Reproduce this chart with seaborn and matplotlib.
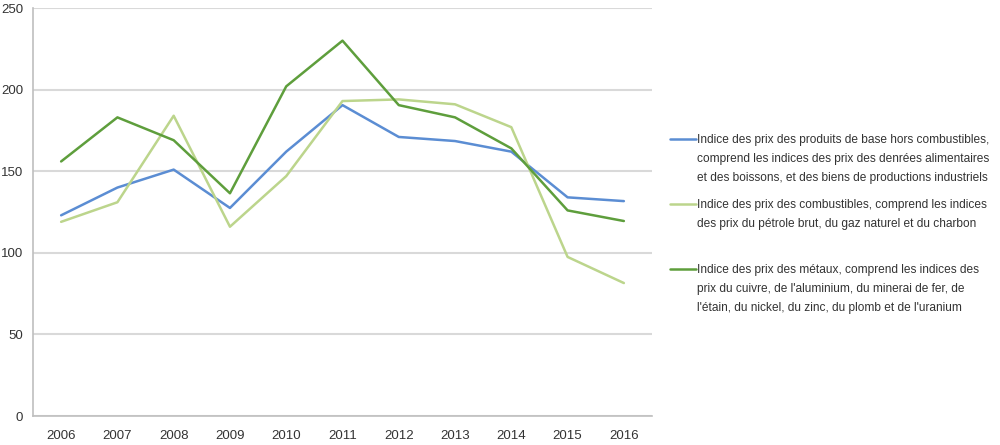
import matplotlib
matplotlib.use("Agg")
import matplotlib.pyplot as plt
import seaborn as sns
import pandas as pd
from matplotlib.lines import Line2D

years = ["2006", "2007", "2008", "2009", "2010", "2011", "2012", "2013", "2014", "2015", "2016"]
non_fuel = [123, 140, 151, 127.5, 162, 190.5, 171, 168.5, 162, 134, 131.7]
fuel = [119, 131, 184, 116, 147, 193, 194, 191, 177, 97.5, 81.5]
metals = [156, 183, 169, 136.5, 202, 230, 190.5, 183, 164, 126, 119.5]

labels = [
    "Indice des prix des produits de base hors combustibles,\ncomprend les indices des prix des denrées alimentaires\net des boissons, et des biens de productions industriels",
    "Indice des prix des combustibles, comprend les indices\ndes prix du pétrole brut, du gaz naturel et du charbon",
    "Indice des prix des métaux, comprend les indices des\nprix du cuivre, de l'aluminium, du minerai de fer, de\nl'étain, du nickel, du zinc, du plomb et de l'uranium",
]
colors = ["#5B8DD3", "#BCD58C", "#5E9E3C"]

df = pd.concat([
    pd.DataFrame({"year": years, "value": non_fuel, "serie": labels[0]}),
    pd.DataFrame({"year": years, "value": fuel, "serie": labels[1]}),
    pd.DataFrame({"year": years, "value": metals, "serie": labels[2]}),
])

sns.set_style("white")
plt.rcParams['font.family'] = ['Liberation Sans', 'DejaVu Sans']

fig = plt.figure(figsize=(10, 4.45), dpi=100)
ax = fig.add_axes([0.033, 0.065, 0.619, 0.917])

sns.lineplot(data=df, x="year", y="value", hue="serie", palette=colors,
             linewidth=1.8, ax=ax, legend=False, sort=False)

ax.set_ylim(0, 250)
ax.set_xlim(-0.5, 10.5)
ax.set_yticks([0, 50, 100, 150, 200, 250])
ax.yaxis.grid(True, color="#D9D9D9", linewidth=1.5)
ax.set_axisbelow(True)
ax.set_xlabel("")
ax.set_ylabel("")
for s in ["top", "right"]:
    ax.spines[s].set_visible(False)
for s in ["left", "bottom"]:
    ax.spines[s].set_color("#BFBFBF")
    ax.spines[s].set_linewidth(1.2)
ax.set_xticks([i + 0.5 for i in range(-1, 11)], minor=True)
ax.tick_params(axis="x", which="major", length=0, pad=10, labelsize=9.5, labelcolor="#333333")
ax.tick_params(axis="x", which="minor", length=5, color="#BFBFBF", width=1.2, direction="out")
ax.tick_params(axis="y", length=5, color="#BFBFBF", width=1.2, pad=2, labelsize=9.5, labelcolor="#333333")

# legend
ys = [0.688, 0.542, 0.396]
for c, lab, y in zip(colors, labels, ys):
    fig.add_artist(Line2D([0.670, 0.696], [y, y], color=c, linewidth=1.8, transform=fig.transFigure))
    fig.text(0.697, y + 0.011, lab, ha="left", va="top", fontsize=8.6, color="#333333",
             linespacing=1.8)

fig.savefig("out.png", dpi=100)
